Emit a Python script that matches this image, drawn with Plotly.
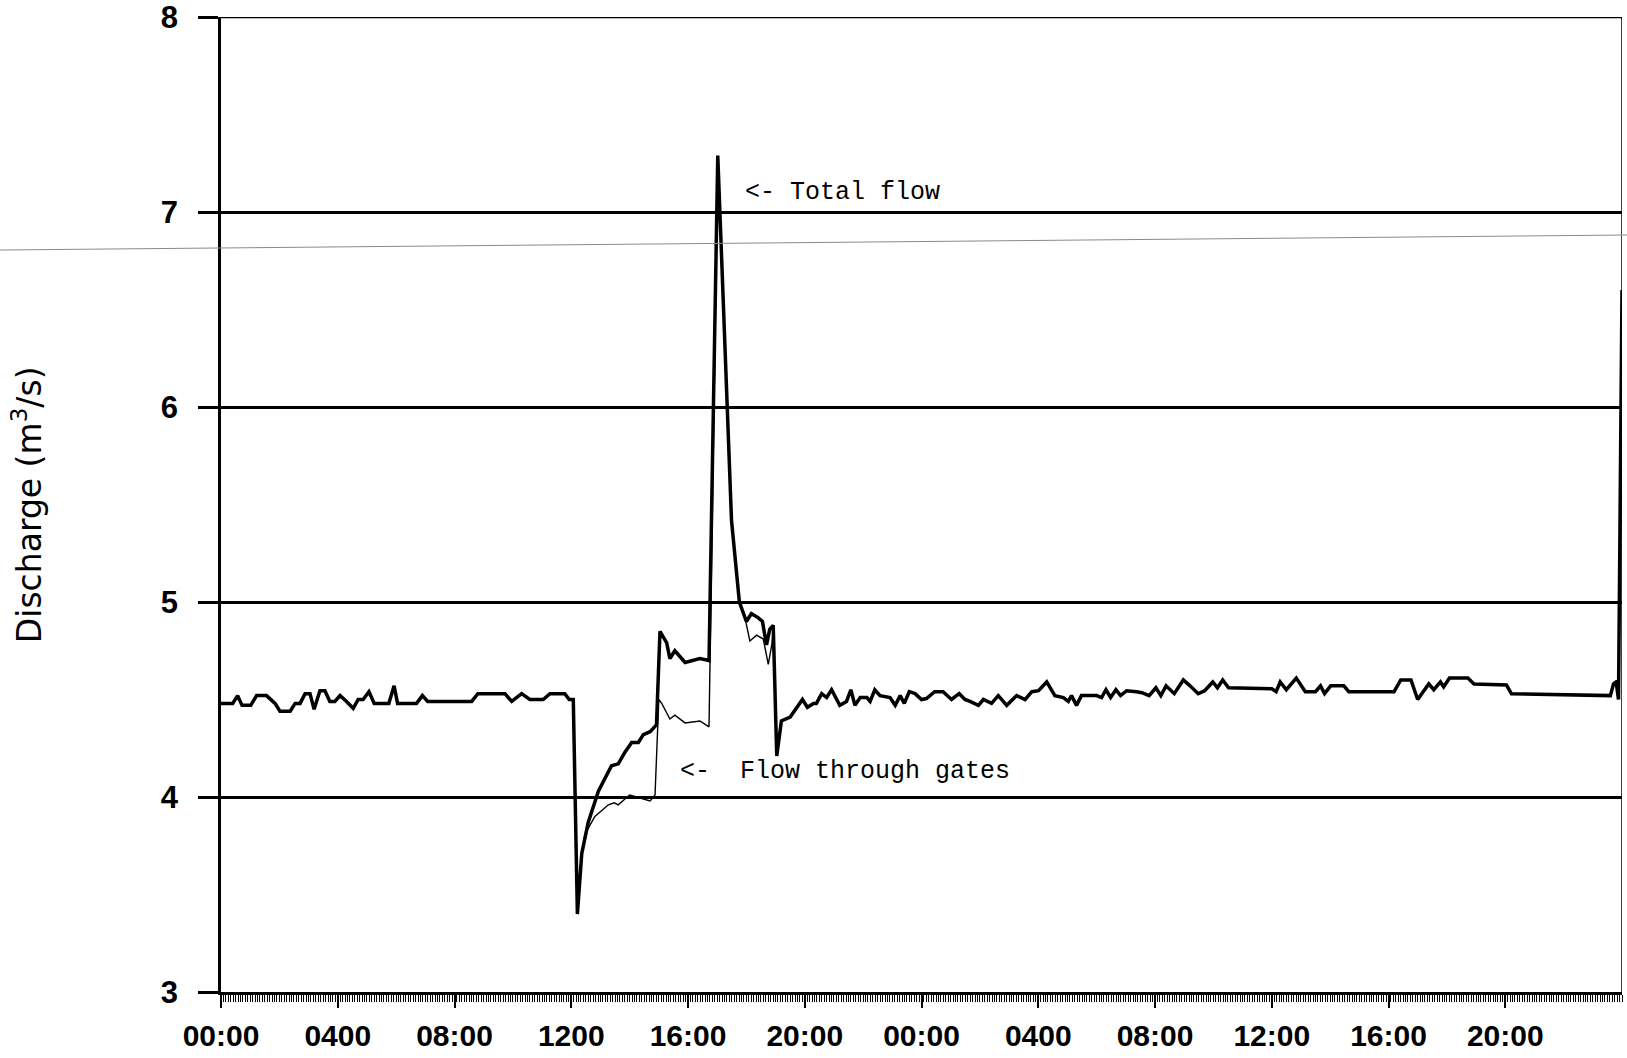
import plotly.graph_objects as go

# ---- data (hours from start of record, discharge in m3/s) ----
total_hours = [
    0.0, 0.4, 0.57, 0.72, 1.02, 1.22, 1.56, 1.85, 2.02, 2.37, 2.54, 2.71, 2.88, 3.05,
    3.19, 3.39, 3.56, 3.73, 3.90, 4.08, 4.30, 4.53, 4.70, 4.87, 5.07, 5.25, 5.75, 5.93,
    6.05, 6.70, 6.90, 7.08, 8.59, 8.80, 9.73, 9.96, 10.30, 10.58, 11.04, 11.27, 11.78,
    11.93, 12.07, 12.21, 12.36, 12.58, 12.93, 13.16, 13.38, 13.61, 13.84, 14.07, 14.30,
    14.47, 14.70, 14.92, 15.04, 15.27, 15.38, 15.55, 15.90, 16.41, 16.72, 17.02, 17.12,
    17.30, 17.38, 17.49, 17.76, 18.00, 18.17, 18.40, 18.55, 18.69, 18.80, 18.92, 19.04,
    19.20, 19.50, 19.64, 19.92, 20.09, 20.30, 20.40, 20.58, 20.75, 20.92, 21.20, 21.43,
    21.58, 21.72, 21.90, 22.13, 22.24, 22.40, 22.58, 22.92, 23.10, 23.27, 23.41, 23.58,
    23.78, 24.00, 24.17, 24.45, 24.74, 25.03, 25.29, 25.49, 25.66, 25.95, 26.12, 26.40,
    26.63, 26.92, 27.26, 27.55, 27.78, 28.01, 28.29, 28.57, 28.86, 29.03, 29.14, 29.31,
    29.48, 30.00, 30.17, 30.32, 30.48, 30.66, 30.82, 31.03, 31.37, 31.55, 31.80, 32.03,
    32.20, 32.38, 32.66, 32.97, 33.20, 33.48, 33.70, 33.98, 34.14, 34.32, 34.52, 36.00,
    36.15, 36.29, 36.50, 36.84, 37.15, 37.50, 37.67, 37.81, 38.02, 38.47, 38.64, 40.19,
    40.42, 40.77, 41.00, 41.38, 41.55, 41.78, 41.89, 42.09, 42.72, 42.93, 44.04, 44.21,
    47.60, 47.71, 47.80, 47.88, 48.0,
]
total_flow = [
    4.48, 4.48, 4.52, 4.47, 4.47, 4.52, 4.52, 4.48, 4.44, 4.44, 4.48, 4.48, 4.53, 4.53,
    4.45, 4.545, 4.545, 4.49, 4.49, 4.52, 4.49, 4.455, 4.50, 4.50, 4.54, 4.48, 4.48, 4.57,
    4.48, 4.48, 4.52, 4.49, 4.49, 4.53, 4.53, 4.49, 4.53, 4.50, 4.50, 4.53, 4.53,
    4.50, 4.50, 3.40, 3.71, 3.87, 4.03, 4.10, 4.16, 4.17, 4.23, 4.28, 4.28,
    4.32, 4.335, 4.37, 4.85, 4.79, 4.71, 4.75, 4.69, 4.71, 4.70, 7.29, 6.90,
    6.20, 5.85, 5.42, 5.00, 4.90, 4.94, 4.92, 4.90, 4.78, 4.86, 4.88, 4.21,
    4.39, 4.41, 4.44, 4.50, 4.46, 4.48, 4.48, 4.53, 4.51, 4.55, 4.47, 4.49,
    4.55, 4.47, 4.51, 4.51, 4.49, 4.55, 4.52, 4.51, 4.47, 4.52, 4.48, 4.54,
    4.53, 4.50, 4.505, 4.54, 4.54, 4.50, 4.53, 4.50, 4.49, 4.47, 4.50, 4.48,
    4.52, 4.47, 4.52, 4.50, 4.54, 4.545, 4.59, 4.52, 4.51, 4.49, 4.52, 4.47,
    4.52, 4.52, 4.51, 4.55, 4.51, 4.55, 4.52, 4.545, 4.54, 4.535, 4.52, 4.56,
    4.52, 4.57, 4.53, 4.60, 4.57, 4.53, 4.545, 4.59, 4.56, 4.60, 4.56, 4.555,
    4.54, 4.59, 4.55, 4.61, 4.54, 4.54, 4.57, 4.53, 4.57, 4.57, 4.54, 4.54,
    4.60, 4.60, 4.50, 4.58, 4.55, 4.59, 4.565, 4.61, 4.61, 4.58, 4.575, 4.53,
    4.52, 4.58, 4.59, 4.50, 6.60,
]

gate_hours = [
    12.07, 12.21, 12.36, 12.47, 12.81, 13.04, 13.27, 13.47, 13.61, 13.84, 14.00, 14.24,
    14.70, 14.87, 15.00, 15.10, 15.27, 15.38, 15.55, 15.90, 16.41, 16.72, 17.02, 17.12,
    17.30, 17.38, 17.49, 17.78, 17.95, 18.12, 18.35, 18.58, 18.75, 18.87, 18.92, 19.04,
    19.20,
]
gate_flow = [
    4.50, 3.40, 3.70, 3.81, 3.90, 3.93, 3.96, 3.97, 3.96, 3.99, 4.01, 4.00,
    3.98, 4.01, 4.50, 4.48, 4.43, 4.40, 4.42, 4.38, 4.39, 4.36, 7.25, 6.90,
    6.20, 5.85, 5.42, 4.99, 4.92, 4.80, 4.83, 4.81, 4.68, 4.78, 4.86, 4.21,
    4.39,
]

tick_hours = [0, 4, 8, 12, 16, 20, 24, 28, 32, 36, 40, 44]
tick_labels = ["00:00", "0400", "08:00", "1200", "16:00", "20:00",
               "00:00", "0400", "08:00", "12:00", "16:00", "20:00"]
y_ticks = [3, 4, 5, 6, 7, 8]

fig = go.Figure()
fig.add_trace(go.Scatter(x=total_hours, y=total_flow, mode="lines",
                         line=dict(color="black", width=3.5), name="Total flow",
                         showlegend=False))
fig.add_trace(go.Scatter(x=gate_hours, y=gate_flow, mode="lines",
                         line=dict(color="black", width=1.4), name="Flow through gates",
                         showlegend=False))

mono = "Courier New, Liberation Mono, monospace"
fig.add_annotation(x=17.88, y=7.10, text="&lt;- Total flow", showarrow=False,
                   xanchor="left", yanchor="middle",
                   font=dict(family=mono, size=25, color="black"))
fig.add_annotation(x=15.66, y=4.13, text="&lt;-\u00a0 Flow through gates", showarrow=False,
                   xanchor="left", yanchor="middle",
                   font=dict(family=mono, size=25, color="black"))

fig.add_annotation(xref="paper", yref="paper", x=-0.138, y=0.5,
                   text="Discharge (m<sup>3</sup>/s)", textangle=-90, showarrow=False,
                   xanchor="center", yanchor="middle",
                   font=dict(family="DejaVu Sans", size=33, color="black"))

# top grid line at 8 and right frame line
fig.add_shape(type="line", xref="x", yref="y", x0=0, x1=48, y0=8, y1=8,
              line=dict(color="black", width=2.5))
fig.add_shape(type="line", xref="x", yref="paper", x0=48, x1=48, y0=0, y1=1,
              line=dict(color="black", width=1.5))
# faint scan line across the page
fig.add_shape(type="line", xref="paper", yref="paper", x0=-0.1577, y0=0.761,
              x1=1.0036, y1=0.7764, line=dict(color="#8a8a8a", width=1))

fig.update_layout(
    width=1627, height=1058,
    margin=dict(l=221, r=5, t=17, b=66, autoexpand=False),
    paper_bgcolor="white", plot_bgcolor="white",
    xaxis=dict(range=[0, 48], showgrid=False, zeroline=False, automargin=False,
               showline=True, linecolor="black", linewidth=2.5,
               tickmode="array", tickvals=tick_hours, ticktext=tick_labels,
               ticks="outside", ticklen=13, tickwidth=2, tickcolor="black",
               ticklabelstandoff=2, ticklabeloverflow="allow",
               tickfont=dict(family="Liberation Sans", size=30, color="black", weight="bold"),
               minor=dict(dtick=1 / 12, tick0=0, ticks="outside", ticklen=7,
                          tickwidth=1, tickcolor="black", showgrid=False)),
    yaxis=dict(range=[3, 8], tickmode="array", tickvals=y_ticks, automargin=False,
               showgrid=True, gridcolor="black", gridwidth=2.5, zeroline=False,
               showline=True, linecolor="black", linewidth=2.5,
               ticks="outside", ticklen=20, tickwidth=2.5, tickcolor="black",
               ticklabelstandoff=14, ticklabeloverflow="allow",
               tickfont=dict(family="Liberation Sans", size=31, color="black", weight="bold")),
)

fig.write_html("out.html")
